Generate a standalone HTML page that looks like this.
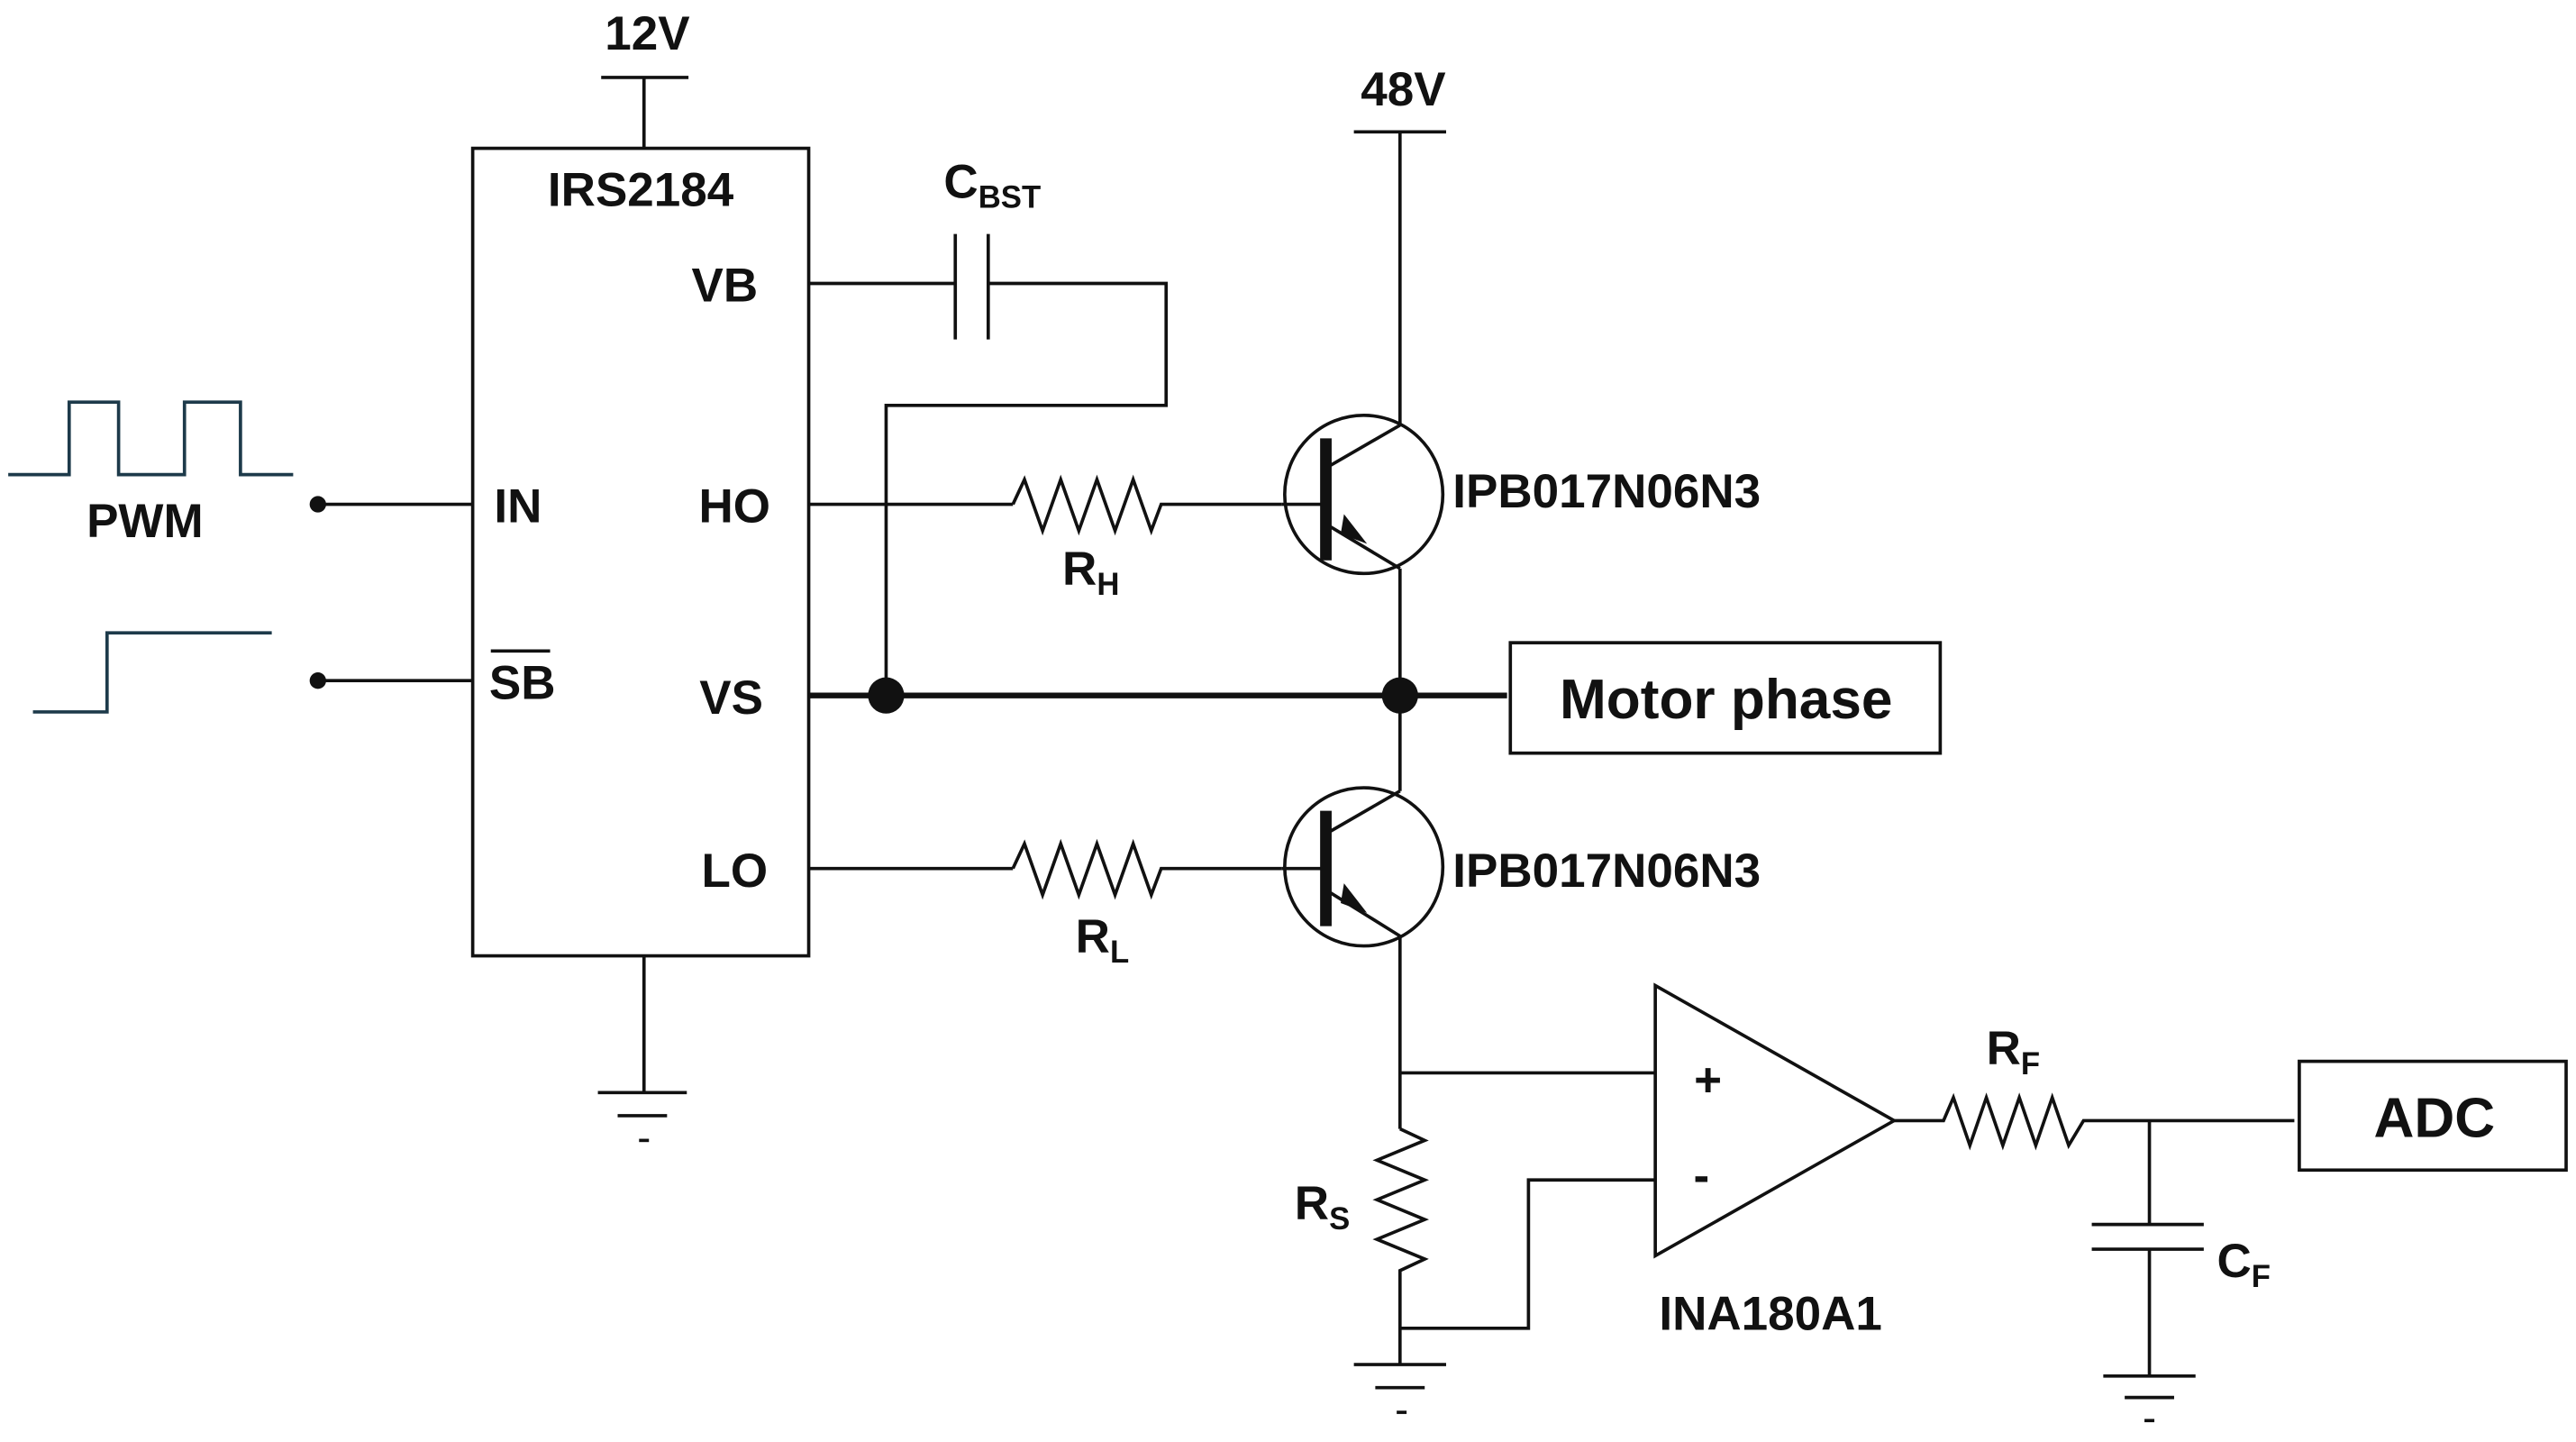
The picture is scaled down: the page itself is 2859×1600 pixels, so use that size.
<!DOCTYPE html>
<html><head><meta charset="utf-8"><style>
html,body{margin:0;padding:0;background:#fff;}
svg{display:block;}
text{font-family:"Liberation Sans",sans-serif;font-weight:bold;fill:#111;}
</style></head><body>
<svg width="2859" height="1600" viewBox="0 0 1564 875" preserveAspectRatio="none" xmlns="http://www.w3.org/2000/svg">
<g stroke="#111" stroke-width="2" fill="none">
<!-- 12V -->
<line x1="365" y1="47" x2="418" y2="47"/>
<line x1="391" y1="47" x2="391" y2="90"/>
<!-- IC -->
<rect x="287" y="90" width="204" height="490"/>
<!-- ground IC -->
<line x1="391" y1="580" x2="391" y2="663"/>
<line x1="363" y1="663" x2="417" y2="663"/>
<line x1="375" y1="677" x2="405" y2="677"/>
<line x1="388" y1="692" x2="394" y2="692"/>
<!-- inputs -->
<line x1="193" y1="306" x2="287" y2="306"/>
<line x1="193" y1="413" x2="287" y2="413"/>
<polyline stroke="#1d3a4a" points="5,288 42,288 42,244 72,244 72,288 112,288 112,244 146,244 146,288 178,288"/>
<polyline stroke="#1d3a4a" points="20,432 65,432 65,384 165,384"/>
<!-- VB / CBST -->
<line x1="491" y1="172" x2="580" y2="172"/>
<line x1="580" y1="142" x2="580" y2="206"/>
<line x1="600" y1="142" x2="600" y2="206"/>
<polyline points="600,172 708,172 708,246 538,246 538,422"/>
<!-- HO -->
<line x1="491" y1="306" x2="615" y2="306"/>
<polyline points="615,306 622,291 633,322 644,291 655,322 666,291 677,322 688,291 699,322 705,306 778,306"/>
<!-- LO -->
<line x1="491" y1="527" x2="615" y2="527"/>
<polyline points="615,527 622,512 633,543 644,512 655,543 666,512 677,543 688,512 699,543 705,527 778,527"/>
<!-- transistor 1 -->
<circle cx="828" cy="300" r="48"/>
<line x1="778" y1="306" x2="805" y2="306"/>
<line x1="805" y1="284" x2="850" y2="258"/>
<line x1="805" y1="318" x2="850" y2="345"/>
<!-- transistor 2 -->
<circle cx="828" cy="526" r="48"/>
<line x1="778" y1="527" x2="805" y2="527"/>
<line x1="805" y1="506" x2="850" y2="480"/>
<line x1="805" y1="540" x2="850" y2="568"/>
<!-- 48V -->
<line x1="822" y1="80" x2="878" y2="80"/>
<line x1="850" y1="80" x2="850" y2="258"/>
<line x1="850" y1="345" x2="850" y2="480"/>
<line x1="850" y1="568" x2="850" y2="685"/>
<!-- RS -->
<polyline points="850,685 865,692 836,704 865,716 836,728 865,740 836,752 865,764 850,771 850,828"/>
<line x1="850" y1="651" x2="1005" y2="651"/>
<polyline points="1005,716 928,716 928,806 850,806"/>
<line x1="822" y1="828" x2="878" y2="828"/>
<line x1="835" y1="842" x2="865" y2="842"/>
<line x1="848" y1="857" x2="854" y2="857"/>
<!-- opamp -->
<polygon points="1005,598 1005,762 1150,680"/>
<polyline points="1150,680 1180,680 1186,666 1196,695 1206,666 1216,695 1226,666 1236,695 1246,666 1256,695 1265,680 1393,680"/>
<line x1="1305" y1="680" x2="1305" y2="743"/>
<line x1="1270" y1="743" x2="1338" y2="743"/>
<line x1="1270" y1="758" x2="1338" y2="758"/>
<line x1="1305" y1="758" x2="1305" y2="835"/>
<line x1="1277" y1="835" x2="1333" y2="835"/>
<line x1="1290" y1="848" x2="1320" y2="848"/>
<line x1="1302" y1="862" x2="1308" y2="862"/>
<!-- boxes -->
<rect x="917" y="390" width="261" height="67"/>
<rect x="1396" y="644" width="162" height="66"/>
<line x1="298" y1="395" x2="334" y2="395"/>
</g>
<!-- thick -->
<line x1="491" y1="422" x2="915" y2="422" stroke="#111" stroke-width="3.5"/>
<line x1="805" y1="266" x2="805" y2="340" stroke="#111" stroke-width="7"/>
<line x1="805" y1="492" x2="805" y2="562" stroke="#111" stroke-width="7"/>
<circle cx="538" cy="422" r="11" fill="#111"/>
<circle cx="850" cy="422" r="11" fill="#111"/>
<circle cx="193" cy="306" r="5" fill="#111"/>
<circle cx="193" cy="413" r="5" fill="#111"/>
<polygon points="830,330 816,312 814,324" fill="#111"/>
<polygon points="830,554 816,536 814,548" fill="#111"/>
<!-- text -->
<g font-size="29">
<text x="393" y="30" text-anchor="middle">12V</text>
<text x="852" y="64" text-anchor="middle">48V</text>
<text x="389" y="125" text-anchor="middle">IRS2184</text>
<text x="440" y="183" text-anchor="middle">VB</text>
<text x="446" y="317" text-anchor="middle">HO</text>
<text x="444" y="433" text-anchor="middle">VS</text>
<text x="446" y="538" text-anchor="middle">LO</text>
<text x="300" y="317">IN</text>
<text x="297" y="424">SB</text>
<text x="88" y="326" text-anchor="middle">PWM</text>
<text x="882" y="308">IPB017N06N3</text>
<text x="882" y="538">IPB017N06N3</text>
<text x="573" y="120">C<tspan font-size="19" dy="6">BST</tspan></text>
<text x="645" y="355">R<tspan font-size="19" dy="6">H</tspan></text>
<text x="653" y="578">R<tspan font-size="19" dy="6">L</tspan></text>
<text x="786" y="740">R<tspan font-size="19" dy="6">S</tspan></text>
<text x="1206" y="646">R<tspan font-size="19" dy="6">F</tspan></text>
<text x="1346" y="775">C<tspan font-size="19" dy="6">F</tspan></text>
<text x="1075" y="807" text-anchor="middle">INA180A1</text>
<text x="1037" y="665" text-anchor="middle">+</text>
<text x="1033" y="723" text-anchor="middle">-</text>
<text x="1048" y="436" text-anchor="middle" font-size="34">Motor phase</text>
<text x="1478" y="690" text-anchor="middle" font-size="34">ADC</text>
</g>
</svg>
</body></html>
